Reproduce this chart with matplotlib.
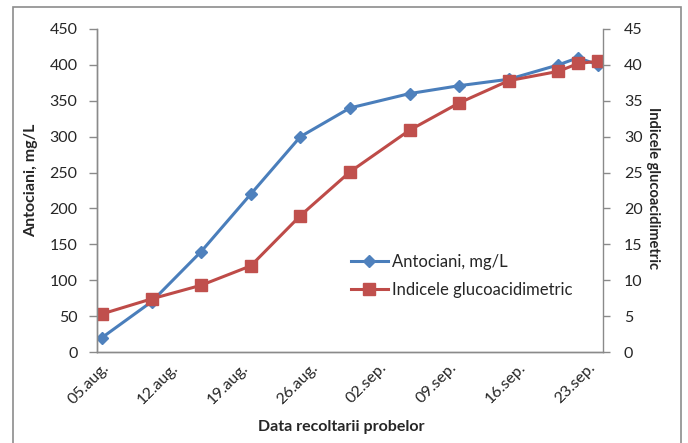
import datetime as dt
import matplotlib
matplotlib.use("Agg")
import matplotlib.pyplot as plt
import matplotlib.dates as mdates
from matplotlib.patches import Rectangle

plt.rcParams['font.family'] = ['Lato', 'DejaVu Sans']

# sampling dates (2012 season)
dates = ["2012-08-05", "2012-08-10", "2012-08-15", "2012-08-20", "2012-08-25",
         "2012-08-30", "2012-09-05", "2012-09-10", "2012-09-15", "2012-09-20",
         "2012-09-22", "2012-09-24"]
antociani = [20, 70, 140, 220, 300, 340, 360, 371, 380, 400, 410, 400]
indice = [5.3, 7.4, 9.3, 12.0, 19.0, 25.1, 30.9, 34.7, 37.8, 39.1, 40.2, 40.5]

tick_dates = ["2012-08-05", "2012-08-12", "2012-08-19", "2012-08-26",
              "2012-09-02", "2012-09-09", "2012-09-16", "2012-09-23"]
tick_labels = ["05.aug.", "12.aug.", "19.aug.", "26.aug.",
               "02.sep.", "09.sep.", "16.sep.", "23.sep."]

x = [dt.datetime.strptime(d, "%Y-%m-%d") for d in dates]
xt = [dt.datetime.strptime(d, "%Y-%m-%d") for d in tick_dates]

TEXT = "#262626"
AXIS = "#8a8a8a"
BLUE_LINE = "#4A7EBB"
BLUE_FILL = "#4F81BD"
RED_LINE = "#BE4B48"
RED_FILL = "#C0504D"

fig = plt.figure(figsize=(6.88, 4.43), dpi=100)
ax = fig.add_axes([97 / 688, 1 - 352 / 443, (603 - 97) / 688, (352 - 29) / 443])
ax2 = ax.twinx()

l1, = ax.plot(x, antociani, color=BLUE_LINE, lw=2.2, marker="D", ms=6.2,
              mfc=BLUE_FILL, mec=BLUE_FILL, label="Antociani, mg/L")
l2, = ax2.plot(x, indice, color=RED_LINE, lw=2.2, marker="s", ms=8.5,
               mfc=RED_FILL, mec=RED_FILL, label="Indicele glucoacidimetric")

# date axis: each day centred in its own slot
x0 = mdates.date2num(dt.datetime(2012, 8, 5)) - 0.5
x1 = mdates.date2num(dt.datetime(2012, 9, 24)) + 0.5
ax.set_xlim(x0, x1)
ax.set_xticks(xt)
ax.set_xticklabels(tick_labels, rotation=45, ha="right", va="top",
                   rotation_mode="anchor", fontsize=11.5, color=TEXT)
ax.tick_params(axis="x", length=0, pad=6)

ax.set_ylim(0, 450)
ax.set_yticks(range(0, 451, 50))
ax2.set_ylim(0, 45)
ax2.set_yticks(range(0, 46, 5))
ax.tick_params(axis="y", length=6, width=1, color=AXIS, pad=8,
               labelsize=11.5, labelcolor=TEXT)
ax2.tick_params(axis="y", length=5, width=1, color=AXIS, pad=10,
                labelsize=11.5, labelcolor=TEXT)

for a in (ax, ax2):
    a.spines["top"].set_visible(False)
    for s in ("left", "right", "bottom"):
        a.spines[s].set_color(AXIS)
        a.spines[s].set_linewidth(1)
ax.spines["right"].set_visible(False)

ax.set_ylabel("Antociani, mg/L", fontsize=11.5, fontweight="bold", color=TEXT)
ax.yaxis.set_label_coords((38 - 97) / 506, (352 - 180) / 323)
fig.text(653 / 688, 1 - 188 / 443, "Indicele glucoacidimetric", rotation=-90,
         ha="center", va="center", fontsize=10.5, fontweight="bold", color=TEXT)
fig.text(341 / 688, 1 - 427 / 443, "Data recoltarii probelor", ha="center",
         va="center", fontsize=11.5, fontweight="bold", color=TEXT)

fig.legend(handles=[l1, l2], loc="upper left",
           bbox_to_anchor=(351 / 688, 1 - 254 / 443), frameon=False,
           fontsize=12, handlelength=2.2, handletextpad=0.25, labelspacing=0.7,
           borderpad=0, borderaxespad=0, labelcolor=TEXT)

# chart frame
fig.patches.append(Rectangle((13 / 688, -0.02), (681 - 13) / 688, 1 - 7 / 443 + 0.02,
                             transform=fig.transFigure, fill=False,
                             edgecolor="#8c8c8c", lw=1.2))

fig.savefig("out.png", dpi=100)
